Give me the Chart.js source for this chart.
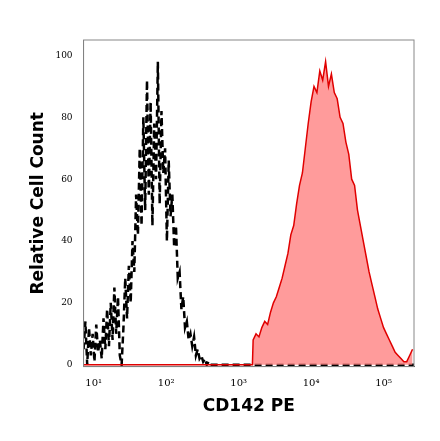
<!DOCTYPE html><html><head><script src="https://cdn.jsdelivr.net/npm/chart.js"></script>
<style>body{margin:0;background:#fff}#w{width:440px;height:441px}</style></head><body><div id="w"><canvas id="c"></canvas></div>
<script>
const ctrlStart=0.86, ctrlStep=0.025;
const ctrlCounts=[5,14,0,12,3,10,1,13,4,8,2,15,5,18,6,20,8,25,10,22,3,0,12,28,15,32,20,40,30,55,42,70,45,80,50,92,55,85,45,78,60,98,52,82,62,70,40,66,48,55,38,45,28,30,18,22,12,14,8,10,6,9,3,5,2,3,1,2,0,1,0,0,0,0];
const ctrlTailX=[3.0,4.0,5.0,5.42], ctrlTailY=[0,0,0,0];
const stainStart=3.2, stainStep=0.04;
const stainCounts=[8,10,9,12,14,13,17,20,22,25,28,32,36,42,45,52,58,62,70,78,85,90,88,95,92,98,90,94,88,86,80,78,72,68,60,58,50,45,40,35,30,26,22,18,15,12,10,8,6,4,3,2,1,1,3,5];
const tickLabels={1:'10¹',2:'10²',3:'10³',4:'10⁴',5:'10⁵'};
const ctrl=ctrlCounts.map((y,i)=>({x:ctrlStart+i*ctrlStep,y})).concat(ctrlTailX.map((x,i)=>({x,y:ctrlTailY[i]})));
const stain=[{x:0.86,y:0},{x:stainStart-0.01,y:0}].concat(stainCounts.map((y,i)=>({x:stainStart+i*stainStep,y})));
new Chart(document.getElementById('c'),{type:'line',data:{datasets:[
{data:stain,borderColor:'#e00000',backgroundColor:'rgba(255,130,130,0.8)',fill:'origin',borderWidth:1.5,pointRadius:0,tension:0},
{data:ctrl,borderColor:'#000',borderDash:[7,4],borderWidth:2.5,pointRadius:0,fill:false,tension:0}
]},options:{responsive:true,maintainAspectRatio:false,animation:false,
layout:{padding:{left:24,right:26,top:40,bottom:20}},
plugins:{legend:{display:false},tooltip:{enabled:false}},
scales:{x:{type:'linear',min:0.86,max:5.42,grid:{display:false,drawTicks:true},border:{color:'#444'},
ticks:{stepSize:1,autoSkip:false,color:'#000',font:{family:'DejaVu Serif',size:10},callback:v=>tickLabels[v]||''},
afterBuildTicks:a=>{a.ticks=[1,2,3,4,5].map(v=>({value:v}));},
title:{display:true,text:'CD142 PE',color:'#000',font:{family:'DejaVu Sans',size:17,weight:'bold'}}},
y:{min:-0.6,max:105,grid:{display:false},border:{color:'#444'},
afterBuildTicks:a=>{a.ticks=[0,20,40,60,80,100].map(v=>({value:v}));},
ticks:{color:'#000',font:{family:'DejaVu Serif',size:9}},
title:{display:true,text:'Relative Cell Count',color:'#000',font:{family:'DejaVu Sans',size:17,weight:'bold'}}}}},
plugins:[{id:'frame',afterDraw(c){const a=c.chartArea,x=c.ctx;x.save();x.strokeStyle='#888';x.lineWidth=1;x.strokeRect(a.left,a.top,a.right-a.left,a.bottom-a.top);x.restore();}}]});
</script></body></html>
